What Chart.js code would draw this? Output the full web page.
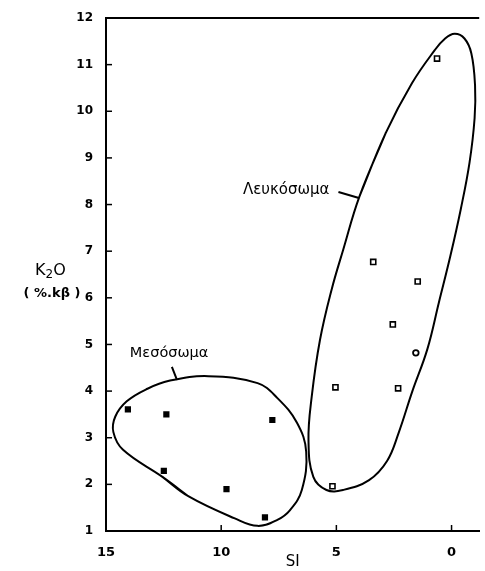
<!DOCTYPE html>
<html>
<head>
<meta charset="utf-8">
<script src="https://cdn.jsdelivr.net/npm/chart.js@4.4.0/dist/chart.umd.min.js"></script>
<style>
  html, body { margin: 0; padding: 0; background: #fff; }
  #wrap { width: 485px; height: 571px; position: relative; }
</style>
</head>
<body>
<div id="wrap"><canvas id="chart"></canvas></div>
<script>
// Μεσόσωμα samples (filled squares)
const mesoX = [14.05, 12.38, 12.49, 9.77, 8.10, 7.78];
const mesoY = [3.61, 3.50, 2.29, 1.90, 1.29, 3.38];

// Λευκόσωμα samples (open squares)
const leukoX = [5.04, 2.32, 5.17, 3.40, 1.47, 2.55, 0.63];
const leukoY = [4.08, 4.06, 1.96, 6.77, 6.35, 5.43, 11.13];

// single open circle
const circleX = [1.55];
const circleY = [4.82];

// field outlines (first points repeated at the end to close them)
const mesoOutlineX = [11.41, 12.55, 14.26, 14.68, 14.60, 14.10, 13.20, 12.26, 10.56, 8.42, 7.56, 6.71, 6.31, 6.50, 7.01, 7.56, 8.42, 9.41, 11.41, 12.55];
const mesoOutlineY = [1.74, 2.16, 2.74, 3.12, 3.45, 3.78, 4.05, 4.22, 4.32, 4.17, 3.85, 3.32, 2.70, 1.88, 1.45, 1.24, 1.11, 1.27, 1.74, 2.16];

const leukoOutlineX = [4.00, 2.86, 1.72, 0.73, 0.30, -0.13, -0.56, -0.86, -1.02, -1.00, -0.78, -0.40, 0.05, 0.55, 1.05, 1.70, 2.30, 2.80, 3.58, 4.71, 5.43, 6.00, 6.21, 6.07, 5.71, 5.21, 4.71, 4.00, 2.86];
const leukoOutlineY = [8.17, 9.53, 10.60, 11.31, 11.55, 11.66, 11.56, 11.24, 10.55, 9.85, 8.90, 7.90, 6.90, 5.90, 4.90, 4.00, 3.10, 2.50, 2.09, 1.88, 1.88, 2.16, 2.95, 3.88, 5.10, 6.17, 7.02, 8.17, 9.53];

const xTicks = [15, 10, 5, 0];
const yTicks = [1, 2, 3, 4, 5, 6, 7, 8, 9, 10, 11, 12];

const pts = (xs, ys) => xs.map((x, i) => ({ x, y: ys[i] }));

const FONT = '"DejaVu Sans", sans-serif';

const extras = {
  id: 'extras',
  afterDraw(chart) {
    const { ctx, chartArea, scales } = chart;
    const xs = scales.x, ys = scales.y;
    ctx.save();
    ctx.strokeStyle = '#000';
    ctx.lineWidth = 2;
    // top frame line
    ctx.beginPath();
    ctx.moveTo(chartArea.left, chartArea.top);
    ctx.lineTo(chartArea.right, chartArea.top);
    ctx.stroke();
    // inward tick marks
    ctx.lineWidth = 1.5;
    yTicks.forEach(v => {
      const py = ys.getPixelForValue(v);
      ctx.beginPath();
      ctx.moveTo(chartArea.left, py);
      ctx.lineTo(chartArea.left + 6, py);
      ctx.stroke();
    });
    xTicks.forEach(v => {
      const px = xs.getPixelForValue(v);
      ctx.beginPath();
      ctx.moveTo(px, chartArea.bottom);
      ctx.lineTo(px, chartArea.bottom - 6);
      ctx.stroke();
    });

    // field labels + leader lines
    ctx.fillStyle = '#000';
    ctx.font = '14.5px ' + FONT;
    ctx.textBaseline = 'middle';
    ctx.textAlign = 'center';
    ctx.fillText('Μεσόσωμα', xs.getPixelForValue(12.26), ys.getPixelForValue(4.82));
    ctx.textAlign = 'right';
    ctx.font = '15px ' + FONT;
    ctx.fillText('Λευκόσωμα', xs.getPixelForValue(5.3), ys.getPixelForValue(8.31));
    ctx.lineWidth = 2;
    ctx.beginPath();
    ctx.moveTo(xs.getPixelForValue(12.14), ys.getPixelForValue(4.52));
    ctx.lineTo(xs.getPixelForValue(11.92), ys.getPixelForValue(4.24));
    ctx.moveTo(xs.getPixelForValue(4.91), ys.getPixelForValue(8.27));
    ctx.lineTo(xs.getPixelForValue(4.02), ys.getPixelForValue(8.14));
    ctx.stroke();

    // y axis title, horizontal
    ctx.textAlign = 'left';
    ctx.font = '16px ' + FONT;
    let x0 = 35;
    ctx.fillText('K', x0, 271);
    x0 += ctx.measureText('K').width;
    ctx.font = '12px ' + FONT;
    ctx.fillText('2', x0, 275);
    x0 += ctx.measureText('2').width;
    ctx.font = '16px ' + FONT;
    ctx.fillText('O', x0, 271);
    ctx.font = 'bold 13px ' + FONT;
    ctx.textAlign = 'center';
    ctx.fillText('( %.kβ )', 52, 294);
    ctx.restore();
  }
};

new Chart(document.getElementById('chart'), {
  type: 'scatter',
  data: {
    datasets: [
      {
        label: 'Μεσόσωμα',
        data: pts(mesoX, mesoY),
        pointStyle: 'rect',
        pointRadius: 4.4,
        backgroundColor: '#000',
        borderColor: '#000',
        borderWidth: 0,
      },
      {
        label: 'Λευκόσωμα',
        data: pts(leukoX, leukoY),
        pointStyle: 'rect',
        pointRadius: 3.6,
        backgroundColor: '#fff',
        borderColor: '#000',
        borderWidth: 1.6,
      },
      {
        label: 'circle',
        data: pts(circleX, circleY),
        pointStyle: 'circle',
        pointRadius: 2.8,
        backgroundColor: '#fff',
        borderColor: '#000',
        borderWidth: 1.8,
      },
      {
        label: 'Μεσόσωμα outline',
        data: pts(mesoOutlineX, mesoOutlineY),
        showLine: true,
        tension: 0.4,
        pointRadius: 0,
        borderColor: '#000',
        borderWidth: 2,
        fill: false,
      },
      {
        label: 'Λευκόσωμα outline',
        data: pts(leukoOutlineX, leukoOutlineY),
        showLine: true,
        tension: 0.4,
        pointRadius: 0,
        borderColor: '#000',
        borderWidth: 2,
        fill: false,
      },
    ],
  },
  options: {
    responsive: true,
    maintainAspectRatio: false,
    animation: false,
    layout: { padding: { top: 18, right: 0, left: 0, bottom: 0 } },
    plugins: { legend: { display: false }, tooltip: { enabled: false } },
    scales: {
      x: {
        type: 'linear',
        reverse: true,
        min: -1.2,
        max: 15,
        afterBuildTicks: s => { s.ticks = xTicks.map(v => ({ value: v })); },
        afterFit: s => { s.height = 40; },
        grid: { display: false },
        border: { display: true, color: '#000', width: 2 },
        ticks: { color: '#000', padding: 6, font: { family: FONT, size: 13, weight: 'bold' } },
        title: { display: true, text: 'SI', color: '#000', padding: 0, font: { family: FONT, size: 15 } },
      },
      y: {
        type: 'linear',
        min: 1,
        max: 12,
        afterBuildTicks: s => { s.ticks = yTicks.map(v => ({ value: v })); },
        afterFit: s => { s.width = 106; },
        grid: { display: false },
        border: { display: true, color: '#000', width: 2 },
        ticks: { color: '#000', padding: 5, font: { family: FONT, size: 12, weight: 'bold' } },
      },
    },
  },
  plugins: [extras],
});
</script>
</body>
</html>
